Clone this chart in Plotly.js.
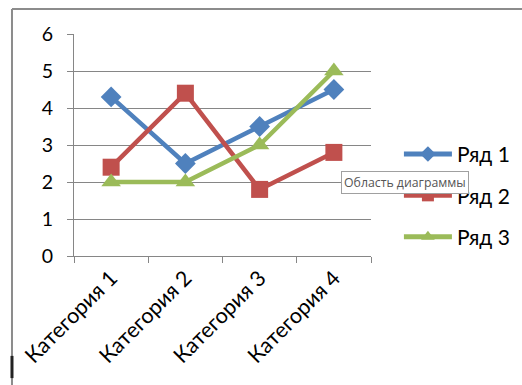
<!DOCTYPE html>
<html>
<head>
<meta charset="utf-8">
<script src="https://cdn.plot.ly/plotly-3.0.1.min.js"></script>
<style>html,body{margin:0;padding:0;background:#fff;}#chart{width:522px;height:385px;}</style>
</head>
<body>
<div id="chart"></div>
<script>
const categories = ["Категория 1", "Категория 2", "Категория 3", "Категория 4"];
const seriesNames = ["Ряд 1", "Ряд 2", "Ряд 3"];
const series1 = [4.3, 2.5, 3.5, 4.5];
const series2 = [2.4, 4.4, 1.8, 2.8];
const series3 = [2, 2, 3, 5];
const yTicks = [0, 1, 2, 3, 4, 5, 6];

const colors = ["#4F81BD", "#C0504D", "#9BBB59"];
const symbols = ["diamond", "square", "triangle-up"];
const sizes = [16, 17, 17];
const data = [series1, series2, series3].map((vals, i) => ({
  type: "scatter",
  mode: "lines+markers",
  name: seriesNames[i],
  x: categories,
  y: vals,
  legendgroup: "g" + i,
  line: {color: colors[i], width: 4.5},
  marker: {symbol: symbols[i], size: sizes[i], color: colors[i]}
}));

const font = "Lato, 'Open Sans', sans-serif";
const layout = {
  width: 522, height: 385,
  margin: {l: 74, r: 151, t: 34, b: 129, autoexpand: false},
  paper_bgcolor: "#fff", plot_bgcolor: "#fff",
  showlegend: true,
  font: {family: font, color: "#000"},
  xaxis: {
    type: "category", range: [-0.5, 3.5],
    tickson: "boundaries", ticks: "outside", ticklen: 6, tickcolor: "#868686",
    showline: true, linecolor: "#868686", linewidth: 1,
    showgrid: false, zeroline: false,
    tickangle: -45, tickfont: {size: 21.5, family: font, color: "#000"}
  },
  yaxis: {
    range: [0, 6], tickvals: yTicks,
    ticks: "outside", ticklen: 6, tickcolor: "#868686",
    showline: true, linecolor: "#868686", linewidth: 1,
    showgrid: true, gridcolor: "#868686", gridwidth: 1, zeroline: false,
    ticklabelstandoff: 10,
    tickfont: {size: 19.5, family: font, color: "#000"}
  },
  legend: {
    x: 1.094, y: 0.55, xanchor: "left", yanchor: "top",
    font: {size: 21, family: font, color: "#000"},
    tracegroupgap: 11, traceorder: "grouped", itemwidth: 48,
    itemsizing: "constant",
    bgcolor: "rgba(0,0,0,0)"
  },
  shapes: [
    {type: "line", xref: "paper", yref: "paper", x0: -0.2088, x1: -0.2088, y0: -0.6, y1: 1.1126, line: {color: "#8c8c8c", width: 2}},
    {type: "line", xref: "paper", yref: "paper", x0: -0.2088, x1: 1.6, y0: 1.1126, y1: 1.1126, line: {color: "#8c8c8c", width: 2}},
    {type: "line", xref: "paper", yref: "paper", x0: -0.2088, x1: -0.2088, y0: -0.45, y1: -0.55, line: {color: "#222", width: 3}}
  ],
  annotations: [
    {xref: "paper", yref: "paper", x: (341 - 74) / 297, y: (256 - 171) / 222, xanchor: "left", yanchor: "top",
     text: "Область диаграммы", showarrow: false, font: {size: 12.3, family: "'Open Sans', sans-serif", color: "#555"},
     bgcolor: "#fff", bordercolor: "#a0a0a0", borderwidth: 1, borderpad: 2}
  ]
};

Plotly.newPlot("chart", data, layout, {displayModeBar: false, staticPlot: true});
</script>
</body>
</html>
